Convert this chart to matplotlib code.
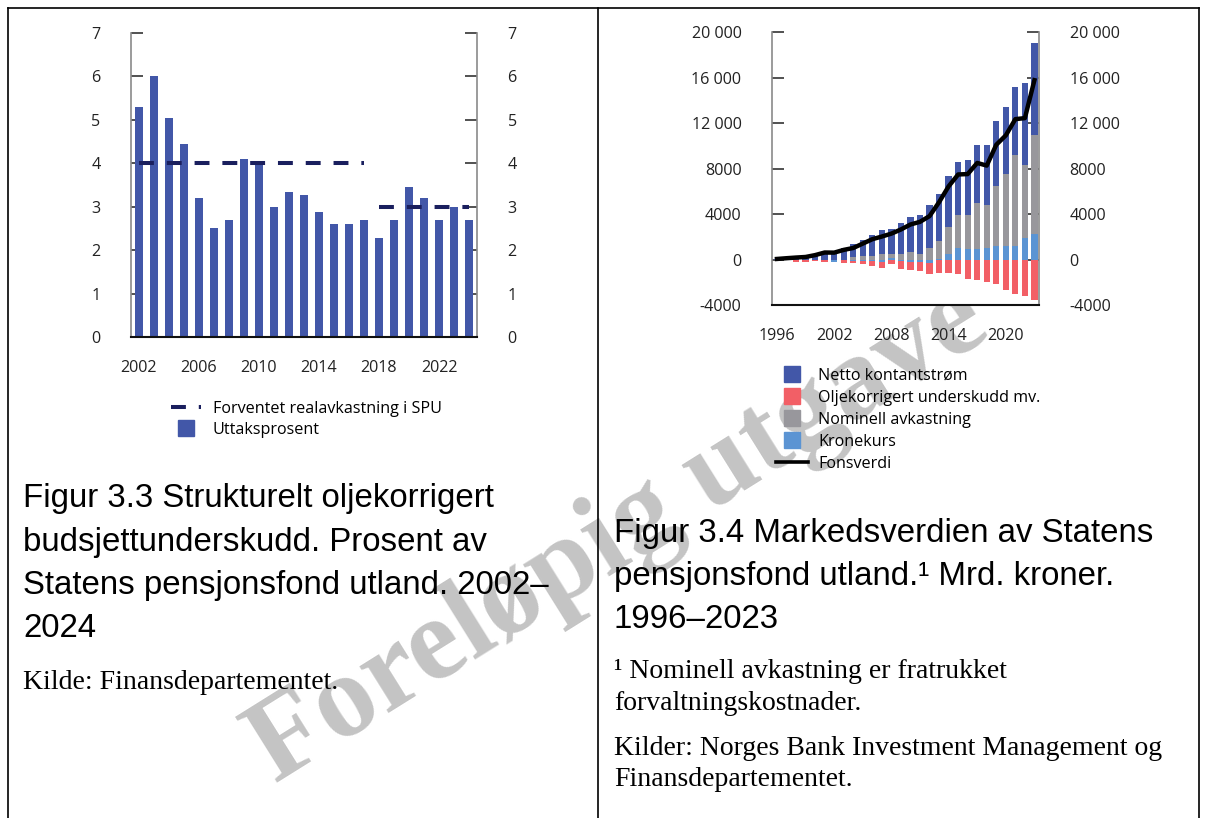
import numpy as np
import matplotlib.pyplot as plt
from matplotlib.lines import Line2D

plt.rcParams['font.family'] = ['Open Sans', 'DejaVu Sans']

# Figur 3.3
aar_v = list(range(2002, 2025))
uttak = [5.3, 6.0, 5.05, 4.45, 3.2, 2.5, 2.7, 4.1, 3.95, 3.0, 3.35, 3.28, 2.87,
         2.6, 2.6, 2.7, 2.27, 2.7, 3.45, 3.2, 2.7, 3.0, 2.7]
forventet = [4.0] * 16 + [3.0] * 7
xtick_v = [2002, 2006, 2010, 2014, 2018, 2022]

# Figur 3.4 (mrd. kroner, akkumulert)
aar_h = list(range(1996, 2024))
kronekurs = [0, 0, 0, 0, 0, 0, -180, 0, -150, -150, -150, -200, 150, -150,
             -180, -180, -350, 50, 450, 1050, 880, 880, 1050, 1230, 1230, 1230,
             1900, 2280]
olje = [0, 0, -200, -200, -150, -180, -30, -350, -200, -250, -380, -550, -420,
        -700, -750, -850, -950, -1200, -1150, -1300, -1700, -1780, -1950,
        -2120, -2640, -2990, -3170, -3530]
nominell = [0, 0, 0, 0, 0, 0, 0, 0, 200, 350, 350, 500, 350, 500, 650, 500,
            1000, 1550, 2400, 2830, 3000, 4050, 3710, 5270, 6320, 7930, 6380,
            8640]
netto = [48, 115, 300, 330, 450, 700, 640, 1030, 1120, 1350, 1800, 2050, 2200,
         2700, 3050, 3400, 3800, 4130, 4470, 4720, 4900, 5110, 5280, 5660, 5840,
         5990, 7220, 8080]
fondsverdi = [48, 113, 172, 222, 386, 614, 604, 845, 1012, 1399, 1784, 2019,
              2275, 2640, 3077, 3312, 3816, 5038, 6431, 7475, 7510, 8488, 8256,
              10088, 10914, 12340, 12429, 15765]
yticks_h = [-4000, 0, 4000, 8000, 12000, 16000, 20000]
ylabels_h = ['-4000', '0', '4000', '8000', '12 000', '16 000', '20 000']
xtick_h = [1996, 2002, 2008, 2014, 2020]

W, H = 1206, 818
fig = plt.figure(figsize=(W / 100, H / 100), dpi=100)

def box(x0, y0, x1, y1):
    return [x0 / W, 1 - y1 / H, (x1 - x0) / W, (y1 - y0) / H]

def stil(ax):
    ax.spines['top'].set_visible(False)
    for s in ['left', 'right']:
        ax.spines[s].set_color('#8a8a8a')
        ax.spines[s].set_linewidth(1.2)
    ax.spines['bottom'].set_color('#111111')
    ax.spines['bottom'].set_linewidth(1.5)
    ax.tick_params(axis='y', left=True, right=True, labelleft=True, labelright=True,
                   direction='in', length=8.6, width=1.1, pad=22, labelsize=11.6,
                   colors='#222222')
    ax.tick_params(axis='x', length=0, pad=16.5, labelsize=11.6, colors='#222222')

blaa = '#4257a8'

# venstre figur
ax1 = fig.add_axes(box(131, 33, 477, 337))
ax1.bar(aar_v, uttak, width=0.53, color=blaa, zorder=2)
fv = np.array(forventet)
for verdi in sorted(set(forventet), reverse=True):
    idx = fv == verdi
    ax1.plot(np.array(aar_v)[idx], fv[idx], color='#1a1f5e', lw=2.9,
             dashes=(3.7, 3.2), zorder=3)
ax1.set_xlim(2001.47, 2024.53)
ax1.set_ylim(0, 7)
ax1.set_yticks(range(0, 8))
ax1.set_xticks(xtick_v)
stil(ax1)
h1 = [Line2D([], [], color='#1a1f5e', lw=2.9, dashes=(3.7, 3.2)),
      Line2D([], [], marker='s', ls='none', markersize=12, color=blaa)]
fig.legend(h1, ['Forventet realavkastning i SPU', 'Uttaksprosent'],
           loc='upper left', bbox_to_anchor=(171 / W, 1 - 401 / H),
           frameon=False, borderpad=0, borderaxespad=0, fontsize=11.6,
           handlelength=1.85, handletextpad=0.75, labelspacing=0.3)

# høyre figur
ax2 = fig.add_axes(box(772, 32, 1039, 305))
serier = [(kronekurs, '#5b94d3'), (olje, '#f25f66'), (nominell, '#98979c'),
          (netto, blaa)]
pos = np.zeros(len(aar_h))
neg = np.zeros(len(aar_h))
for vals, farge in serier:
    v = np.array(vals, dtype=float)
    bunn = np.where(v >= 0, pos, neg)
    ax2.bar(aar_h, v, bottom=bunn, width=0.66, color=farge, zorder=2)
    pos += np.clip(v, 0, None)
    neg += np.clip(v, None, 0)
ax2.plot(aar_h, fondsverdi, color='black', lw=3.2, zorder=3)
ax2.set_xlim(1995.48, 2023.48)
ax2.set_ylim(-4000, 20000)
ax2.set_yticks(yticks_h)
ax2.set_yticklabels(ylabels_h)
ax2.set_xticks(xtick_h)
stil(ax2)
h2 = [Line2D([], [], marker='s', ls='none', markersize=11.5, color=c)
      for c in [blaa, '#f25f66', '#98979c', '#5b94d3']]
h2.append(Line2D([], [], color='black', lw=2.6))
fig.legend(h2, ['Netto kontantstrøm', 'Oljekorrigert underskudd mv.',
                'Nominell avkastning', 'Kronekurs', 'Fonsverdi'],
           loc='upper left', bbox_to_anchor=(776 / W, 1 - 368 / H),
           frameon=False, borderpad=0, borderaxespad=0, fontsize=11.6,
           handlelength=1.98, handletextpad=0.62, labelspacing=0.37)

# rammer
for (x0, y0, x1, y1) in [(8, 8, 1199, 8), (8, 8, 8, 818), (598, 8, 598, 818),
                         (1199, 8, 1199, 818)]:
    fig.add_artist(Line2D([x0 / W, x1 / W], [1 - y0 / H, 1 - y1 / H],
                          transform=fig.transFigure, color='black', lw=1.2))

# tekst
tittel = dict(family='Liberation Sans', fontsize=23.8, va='baseline', color='black')
kilde = dict(family='Liberation Serif', fontsize=20, va='baseline', color='black')
for txt, y in [('Figur 3.3 Strukturelt oljekorrigert', 507),
               ('budsjettunderskudd. Prosent av', 551),
               ('Statens pensjonsfond utland. 2002–', 594),
               ('2024', 637)]:
    fig.text(23 / W, 1 - y / H, txt, **tittel)
fig.text(23 / W, 1 - 689 / H, 'Kilde: Finansdepartementet.', **kilde)
for txt, y in [('Figur 3.4 Markedsverdien av Statens', 542),
               ('pensjonsfond utland.¹ Mrd. kroner.', 585),
               ('1996–2023', 628)]:
    fig.text(614 / W, 1 - y / H, txt, **tittel)
for txt, y in [('¹ Nominell avkastning er fratrukket', 678),
               ('forvaltningskostnader.', 710),
               ('Kilder: Norges Bank Investment Management og', 755),
               ('Finansdepartementet.', 786)]:
    fig.text(614 / W, 1 - y / H, txt, **kilde)

# vannmerke, bak teksten
fig.text(634 / W, 1 - 560 / H, 'Foreløpig utgave', family='Liberation Serif',
         fontweight='bold', fontsize=85, color='#c4c4c4',
         rotation=32, rotation_mode='anchor', ha='center', va='baseline', zorder=-1)

fig.savefig('out.png', dpi=100)
